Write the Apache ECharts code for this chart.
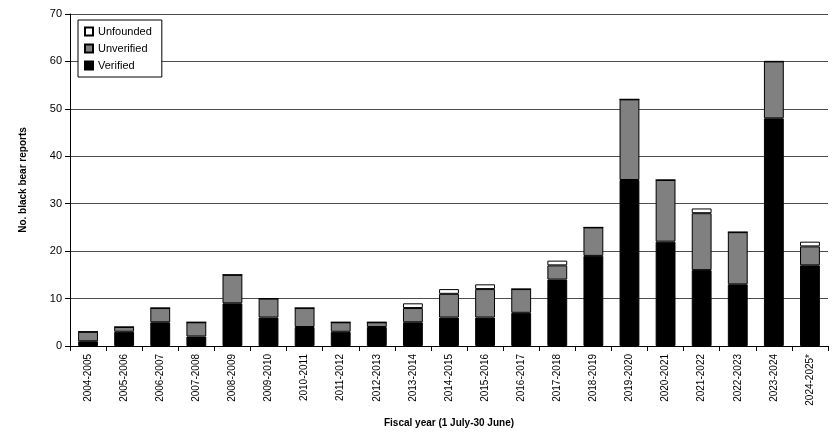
<!DOCTYPE html>
<html><head><meta charset="utf-8">
<script src="https://cdn.jsdelivr.net/npm/echarts@6/dist/echarts.min.js"></script>
<style>html,body{margin:0;padding:0;background:#fff}#c{width:840px;height:433px}</style>
</head><body><div id="c"></div>
<script>
const categories=["2004-2005","2005-2006","2006-2007","2007-2008","2008-2009","2009-2010","2010-2011","2011-2012","2012-2013","2013-2014","2014-2015","2015-2016","2016-2017","2017-2018","2018-2019","2019-2020","2020-2021","2021-2022","2022-2023","2023-2024","2024-2025*"];
const verified=[1,3,5,2,9,6,4,3,4,5,6,6,7,14,19,35,22,16,13,48,17];
const unverified=[2,1,3,3,6,4,4,2,1,3,5,6,5,3,6,17,13,12,11,12,4];
const unfounded=[0,0,0,0,0,0,0,0,0,1,1,1,0,1,0,0,0,1,0,0,1];
const F="Liberation Sans, Arial, sans-serif";
const bs={borderColor:"#000",borderWidth:1};
const chart=echarts.init(document.getElementById('c'));
chart.setOption({
  animation:false,
  grid:{left:70,right:12,top:14,bottom:84},
  legend:{orient:'vertical',left:78,top:20,itemWidth:8,itemHeight:8,itemGap:6,icon:'rect',
    borderColor:'#000',borderWidth:1,padding:[6,10,6,6],backgroundColor:'#fff',
    textStyle:{fontFamily:F,fontSize:11,color:'#000'},
    data:['Unfounded','Unverified','Verified']},
  xAxis:{type:'category',data:categories,
    name:'Fiscal year (1 July-30 June)',nameLocation:'middle',nameGap:72,
    nameTextStyle:{fontFamily:F,fontSize:10,fontWeight:'bold',color:'#000'},
    axisLine:{lineStyle:{color:'#000'}},axisTick:{show:true,lineStyle:{color:'#000'}},
    axisLabel:{rotate:90,interval:0,fontFamily:F,fontSize:10,color:'#000'}},
  yAxis:{type:'value',min:0,max:70,interval:10,
    name:'No. black bear reports',nameLocation:'middle',nameGap:42,
    nameTextStyle:{fontFamily:F,fontSize:10,fontWeight:'bold',color:'#000'},
    axisLine:{show:true,lineStyle:{color:'#000'}},axisTick:{show:true,lineStyle:{color:'#000'}},
    axisLabel:{fontFamily:F,fontSize:11,color:'#000'},
    splitLine:{lineStyle:{color:'#000',width:0.7}}},
  series:[
    {name:'Verified',type:'bar',stack:'a',data:verified,barWidth:'55%',itemStyle:Object.assign({color:'#000'},bs)},
    {name:'Unverified',type:'bar',stack:'a',data:unverified,itemStyle:Object.assign({color:'#808080'},bs)},
    {name:'Unfounded',type:'bar',stack:'a',data:unfounded,itemStyle:Object.assign({color:'#fff'},bs)}
  ]
});
</script></body></html>
